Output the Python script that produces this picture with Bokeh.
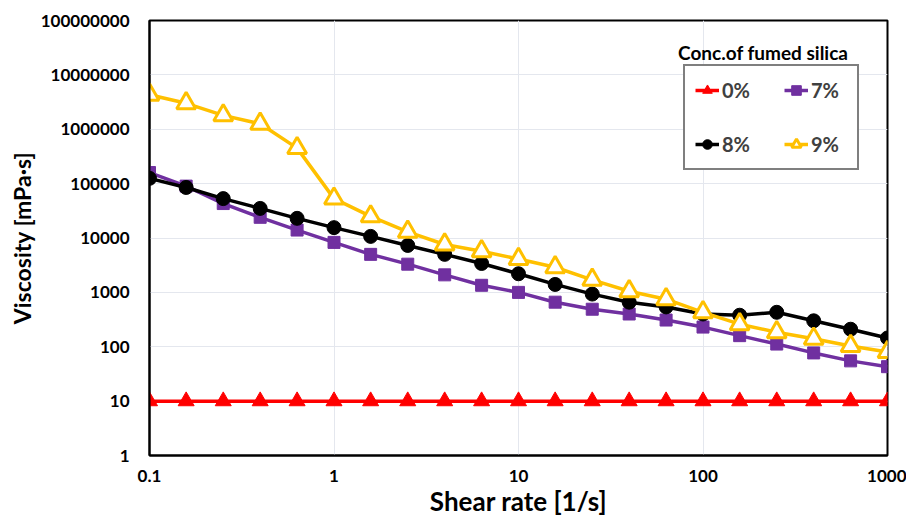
from bokeh.plotting import figure
from bokeh.models import FixedTicker, Legend, LegendItem, Label
from bokeh.embed import file_html
from bokeh.resources import INLINE

shear_rate = [0.1, 0.158, 0.251, 0.398, 0.631, 1.0, 1.58, 2.51, 3.98, 6.31,
              10.0, 15.8, 25.1, 39.8, 63.1, 100.0, 158.0, 251.0, 398.0, 631.0, 1000.0]
visc_0 = [10] * 21
visc_7 = [160000, 90000, 43000, 24000, 14000, 8300, 5000, 3300, 2100, 1350,
          1000, 660, 490, 400, 310, 230, 160, 112, 77, 55, 43]
visc_8 = [125000, 85000, 53000, 35000, 23000, 15500, 10700, 7300, 5000, 3400,
          2200, 1400, 930, 660, 540, 400, 380, 430, 300, 210, 145]
visc_9 = [4300000, 3000000, 1800000, 1260000, 450000, 53000, 25000, 13000, 7600, 5700,
          4100, 2900, 1700, 1050, 750, 430, 260, 185, 140, 103, 80]

x_ticks = [0.1, 1, 10, 100, 1000]
x_labels = ["0.1", "1", "10", "100", "1000"]
y_ticks = [1, 10, 100, 1000, 10000, 100000, 1000000, 10000000, 100000000]
y_labels = ["1", "10", "100", "1000", "10000", "100000", "1000000", "10000000", "100000000"]

FONT = "Lato"

p = figure(width=906, height=519, x_axis_type="log", y_axis_type="log",
           x_range=(0.1, 1000), y_range=(1, 1e8),
           output_backend="svg", toolbar_location=None,
           min_border_left=149, min_border_right=19, min_border_top=20, min_border_bottom=62)
p.background_fill_color = "white"
p.border_fill_color = "white"
p.outline_line_color = "black"
p.outline_line_width = 2

for ax, ticks, labels in ((p.xaxis[0], x_ticks, x_labels), (p.yaxis[0], y_ticks, y_labels)):
    ax.ticker = FixedTicker(ticks=ticks)
    ax.major_label_overrides = {t: l for t, l in zip(ticks, labels)}
    ax.major_label_text_font = FONT
    ax.major_label_text_font_style = "bold"
    ax.major_label_text_font_size = "17px"
    ax.major_label_text_color = "black"
    ax.axis_label_text_font = FONT
    ax.axis_label_text_font_style = "bold"
    ax.axis_label_text_color = "black"
    ax.axis_line_color = "black"
    ax.axis_line_width = 2
    ax.major_tick_line_color = None
    ax.minor_tick_line_color = None
    ax.major_tick_out = 0
    ax.major_tick_in = 0
    ax.minor_tick_out = 0
    ax.minor_tick_in = 0

p.xaxis.axis_label = "Shear rate [1/s]"
p.yaxis.axis_label = "Viscosity [mPa·s]"
p.xaxis.axis_label_text_font_size = "26px"
p.yaxis.axis_label_text_font_size = "23px"
p.yaxis.major_label_standoff = 20
p.xaxis.major_label_standoff = 14
p.xaxis.axis_label_standoff = 0
p.yaxis.axis_label_standoff = 2

p.xgrid.ticker = FixedTicker(ticks=x_ticks)
p.ygrid.ticker = FixedTicker(ticks=y_ticks)
p.grid.grid_line_color = "#e4e7ee"
p.grid.grid_line_width = 1

r0l = p.line(shear_rate, visc_0, line_color="#ff0000", line_width=3.5)
r0m = p.scatter(shear_rate, visc_0, marker="triangle", size=16, fill_color="#ff0000", line_color="#ff0000")
r7l = p.line(shear_rate, visc_7, line_color="#7030a0", line_width=3.5)
r7m = p.scatter(shear_rate, visc_7, marker="square", size=12, fill_color="#7030a0", line_color="#7030a0")
r8l = p.line(shear_rate, visc_8, line_color="black", line_width=3.5)
r8m = p.scatter(shear_rate, visc_8, marker="circle", size=14, fill_color="black", line_color="black")
r9l = p.line(shear_rate, visc_9, line_color="#ffc000", line_width=3.5)
r9m = p.scatter(shear_rate, visc_9, marker="triangle", size=19, fill_color="white",
                line_color="#ffc000", line_width=3)

legend = Legend(items=[
    LegendItem(label="0%", renderers=[r0l, r0m]),
    LegendItem(label="8%", renderers=[r8l, r8m]),
    LegendItem(label="7%", renderers=[r7l, r7m]),
    LegendItem(label="9%", renderers=[r9l, r9m]),
], ncols=2, location=(534, 285))
legend.label_text_font = FONT
legend.label_text_font_style = "bold"
legend.label_text_font_size = "20px"
legend.label_text_color = "#404040"
legend.border_line_color = "black"
legend.border_line_width = 2
legend.background_fill_color = "white"
legend.background_fill_alpha = 1
legend.padding = 10
legend.spacing = 26
legend.glyph_height = 28
legend.glyph_width = 24
legend.label_height = 28
legend.label_width = 36
legend.label_standoff = 3
legend.margin = 0
p.add_layout(legend, "center")

title = Label(x=212, y=2.6e7, text="Conc.of fumed silica", text_align="center",
              text_baseline="middle", text_font=FONT, text_font_style="bold",
              text_font_size="19px", text_color="black")
p.add_layout(title)

open("out.html", "w").write(file_html(p, INLINE))
